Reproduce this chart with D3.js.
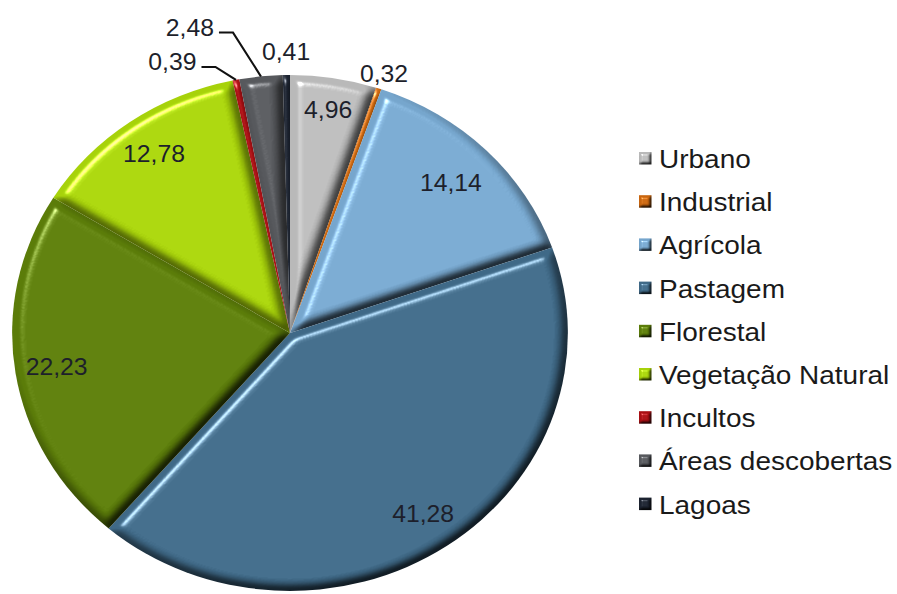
<!DOCTYPE html>
<html>
<head>
<meta charset="utf-8">
<script src="https://cdn.jsdelivr.net/npm/d3@7"></script>
<style>
  html, body { margin: 0; padding: 0; background: #ffffff; }
  svg { display: block; }
</style>
</head>
<body>
<svg id="chart" width="897" height="594"></svg>
<script>
// Land-use shares (%)
const categories = ["Urbano", "Industrial", "Agrícola", "Pastagem", "Florestal",
                    "Vegetação Natural", "Incultos", "Áreas descobertas", "Lagoas"];
const values = [4.96, 0.32, 14.14, 41.28, 22.23, 12.78, 0.39, 2.48, 0.41];
const colors = ["#b9b9b9", "#c9660f", "#76a6cd", "#3f6987", "#5b7c09",
                "#a7d20a", "#a90f13", "#57595d", "#1c2330"];

const data = categories.map((name, i) => ({ name, value: values[i] }));
const fmt = v => v.toFixed(2).replace(".", ",");

// Layout
const SX = 1.077;               // horizontal stretch of the whole drawing
const cx = 290 / SX, cy = 333;  // pie centre
const R = 258;                  // pie radius
const FONT = "'Liberation Sans', Arial, sans-serif";

const svg = d3.select("#chart");
const defs = svg.append("defs");

// Soft bevel: blurred alpha as a height map, diffuse shading partly multiplied in,
// specular highlight added on top.
function makeBevel(id, std, scale, spec, shade) {
  const elev = 50;
  const f = defs.append("filter").attr("id", id)
    .attr("x", "-10%").attr("y", "-10%").attr("width", "120%").attr("height", "120%")
    .attr("color-interpolation-filters", "sRGB");
  f.append("feGaussianBlur").attr("in", "SourceAlpha").attr("stdDeviation", std).attr("result", "blur");
  const d = f.append("feDiffuseLighting").attr("in", "blur").attr("surfaceScale", scale)
    .attr("diffuseConstant", 1 / Math.sin(elev * Math.PI / 180))
    .attr("lighting-color", "#ffffff").attr("result", "diff");
  d.append("feDistantLight").attr("azimuth", 235).attr("elevation", elev);
  f.append("feComposite").attr("in", "SourceGraphic").attr("in2", "diff")
    .attr("operator", "arithmetic").attr("k1", shade).attr("k2", 1 - shade).attr("result", "shaded");
  const s = f.append("feSpecularLighting").attr("in", "blur").attr("surfaceScale", scale)
    .attr("specularConstant", spec).attr("specularExponent", 50)
    .attr("lighting-color", "#ffffff").attr("result", "spec");
  s.append("feDistantLight").attr("azimuth", 235).attr("elevation", elev);
  f.append("feComposite").attr("in", "spec").attr("in2", "SourceAlpha")
    .attr("operator", "in").attr("result", "specIn");
  f.append("feComposite").attr("in", "shaded").attr("in2", "specIn")
    .attr("operator", "arithmetic").attr("k2", 1).attr("k3", 1);
}
makeBevel("bevel", 5, 8, 0.6, 0.72);
makeBevel("bevelSmall", 1.6, 3, 0.6, 0.8);

const root = svg.append("g").attr("transform", `scale(${SX},1)`);
const pieG = root.append("g").attr("transform", `translate(${cx},${cy})`);

const pie = d3.pie().sort(null).value(d => d.value);
const arcs = pie(data);
const arc = d3.arc().innerRadius(0).outerRadius(R);
const color = d3.scaleOrdinal().domain(categories).range(colors);

pieG.selectAll("path.slice")
  .data(arcs)
  .join("path")
  .attr("class", "slice")
  .attr("d", arc)
  .attr("fill", d => color(d.data.name))
  .attr("filter", "url(#bevel)");

// Value labels
const mid = d => (d.startAngle + d.endAngle) / 2;
const polar = (a, r) => [Math.sin(a) * r, -Math.cos(a) * r];

const insideR = { "Urbano": 0.875, "Agrícola": 0.82 };
const outsideR = { "Industrial": 1.06, "Lagoas": 1.09 };
const leaderOffset = { "Incultos": [-59, -18], "Áreas descobertas": [-66, -49] };

const labelPos = d => {
  const n = d.data.name;
  if (leaderOffset[n]) {
    const [ax, ay] = polar(mid(d), R);
    return [ax + leaderOffset[n][0], ay + leaderOffset[n][1]];
  }
  if (outsideR[n]) return polar(mid(d), R * outsideR[n]);
  return polar(mid(d), R * (insideR[n] || 0.85));
};

// Leader lines for the labels moved away from their thin slices
pieG.selectAll("path.leader")
  .data(arcs.filter(d => leaderOffset[d.data.name]))
  .join("path")
  .attr("class", "leader")
  .attr("d", d => {
    const [ax, ay] = polar(mid(d), R);
    const [lx, ly] = labelPos(d);
    return `M${lx + 27},${ly + 5}H${lx + 40}L${ax},${ay}`;
  })
  .attr("fill", "none")
  .attr("stroke", "#111111")
  .attr("stroke-width", 2);

pieG.selectAll("text.val")
  .data(arcs)
  .join("text")
  .attr("class", "val")
  .attr("x", d => labelPos(d)[0])
  .attr("y", d => labelPos(d)[1])
  .attr("dy", "0.36em")
  .attr("text-anchor", "middle")
  .attr("font-family", FONT)
  .attr("font-size", 23)
  .attr("fill", "#1d1f2b")
  .text(d => fmt(d.data.value));

// Legend
const legX = 639 / SX, textX = 659 / SX, base0 = 168, step = 43.2;
const leg = root.append("g")
  .selectAll("g")
  .data(categories)
  .join("g")
  .attr("transform", (d, i) => `translate(0,${base0 + i * step})`);

leg.append("rect")
  .attr("x", legX)
  .attr("y", -16)
  .attr("width", 12.5 / SX)
  .attr("height", 12.5)
  .attr("fill", d => color(d))
  .attr("filter", "url(#bevelSmall)");

leg.append("text")
  .attr("x", textX)
  .attr("y", 0)
  .attr("font-family", FONT)
  .attr("font-size", 26)
  .attr("fill", "#1a1a1a")
  .text(d => d);
</script>
</body>
</html>
